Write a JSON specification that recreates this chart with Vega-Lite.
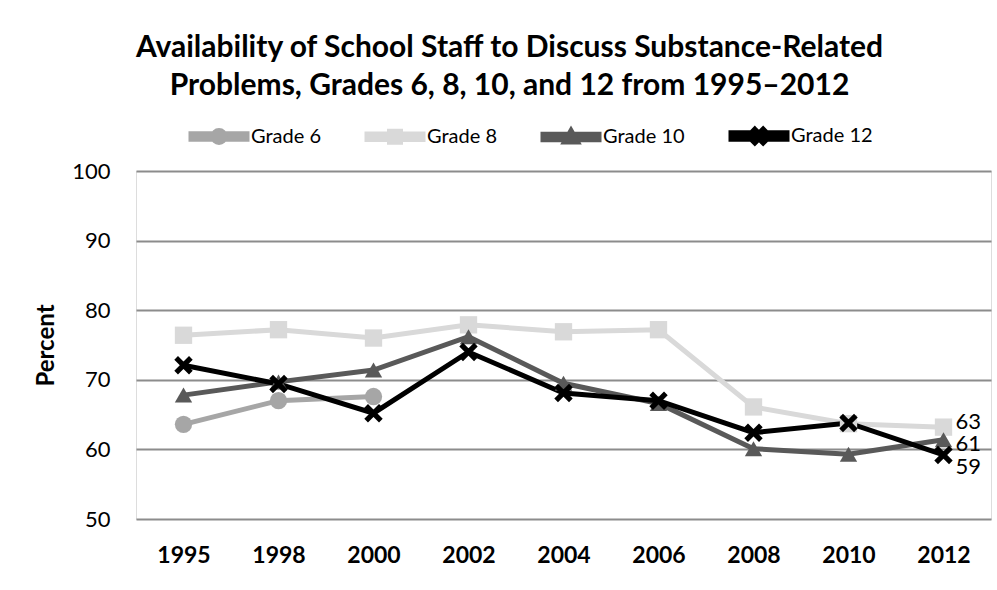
{
  "$schema": "https://vega.github.io/schema/vega-lite/v6.json",
  "width": 855,
  "height": 348,
  "autosize": {"type": "none"},
  "padding": {"left": 136, "top": 171, "right": 6, "bottom": 71},
  "background": "white",
  "title": {
    "text": ["Availability of School Staff to Discuss Substance-Related", "Problems, Grades 6, 8, 10, and 12 from 1995–2012"],
    "font": "Lato", "fontSize": 30, "fontWeight": "bold", "color": "#000000",
    "anchor": "middle", "dx": -54, "offset": 25, "lineHeight": 38
  },
  "data": {
    "values": [
      {"series": "Grade 6", "year": 1995, "value": 63.6},
      {"series": "Grade 6", "year": 1998, "value": 67.0},
      {"series": "Grade 6", "year": 2000, "value": 67.6},
      {"series": "Grade 8", "year": 1995, "value": 76.4},
      {"series": "Grade 8", "year": 1998, "value": 77.2},
      {"series": "Grade 8", "year": 2000, "value": 76.0},
      {"series": "Grade 8", "year": 2002, "value": 77.9},
      {"series": "Grade 8", "year": 2004, "value": 76.9},
      {"series": "Grade 8", "year": 2006, "value": 77.2},
      {"series": "Grade 8", "year": 2008, "value": 66.1},
      {"series": "Grade 8", "year": 2010, "value": 63.7},
      {"series": "Grade 8", "year": 2012, "value": 63.2},
      {"series": "Grade 10", "year": 1995, "value": 67.8},
      {"series": "Grade 10", "year": 1998, "value": 69.7},
      {"series": "Grade 10", "year": 2000, "value": 71.4},
      {"series": "Grade 10", "year": 2002, "value": 76.2},
      {"series": "Grade 10", "year": 2004, "value": 69.5},
      {"series": "Grade 10", "year": 2006, "value": 66.6},
      {"series": "Grade 10", "year": 2008, "value": 60.1},
      {"series": "Grade 10", "year": 2010, "value": 59.3},
      {"series": "Grade 10", "year": 2012, "value": 61.4},
      {"series": "Grade 12", "year": 1995, "value": 72.1},
      {"series": "Grade 12", "year": 1998, "value": 69.4},
      {"series": "Grade 12", "year": 2000, "value": 65.2},
      {"series": "Grade 12", "year": 2002, "value": 74.0},
      {"series": "Grade 12", "year": 2004, "value": 68.1},
      {"series": "Grade 12", "year": 2006, "value": 67.0},
      {"series": "Grade 12", "year": 2008, "value": 62.4},
      {"series": "Grade 12", "year": 2010, "value": 63.8},
      {"series": "Grade 12", "year": 2012, "value": 59.2}
    ]
  },
  "encoding": {
    "x": {
      "field": "year", "type": "ordinal",
      "scale": {"padding": 0.5},
      "axis": {
        "title": null, "labelFont": "Lato", "labelFontWeight": "bold", "labelFontSize": 23,
        "labelColor": "#000000", "labelAngle": 0, "ticks": false, "domain": false, "grid": false,
        "labelPadding": 25
      }
    },
    "y": {
      "field": "value", "type": "quantitative",
      "scale": {"domain": [50, 100]},
      "axis": {
        "title": "Percent", "titleFont": "Lato", "titleFontSize": 24, "titleFontWeight": "bold",
        "titleColor": "#000000", "titlePadding": 13,
        "values": [50, 60, 70, 80, 90, 100],
        "labelFont": "Lato", "labelFontSize": 22, "labelColor": "#000000", "labelPadding": 26,
        "ticks": false, "domain": false, "grid": true, "gridColor": "#8c8c8c", "gridWidth": 2
      }
    },
    "color": {
      "field": "series", "type": "nominal",
      "scale": {"domain": ["Grade 6", "Grade 8", "Grade 10", "Grade 12"], "range": ["#a6a6a6", "#d9d9d9", "#595959", "#000000"]}
    }
  },
  "layer": [
    {
      "mark": {"type": "line"},
      "encoding": {
        "strokeWidth": {
          "field": "series", "type": "nominal",
          "scale": {"domain": ["Grade 6", "Grade 8", "Grade 10", "Grade 12"], "range": [5, 5, 5, 6]},
          "legend": null
        }
      }
    },
    {
      "transform": [{"filter": "datum.series == 'Grade 6'"}],
      "mark": {"type": "point", "shape": "circle", "filled": true, "size": 300, "opacity": 1},
      "encoding": {
        "color": {
          "field": "series", "type": "nominal",
          "scale": {"domain": ["Grade 6", "Grade 8", "Grade 10", "Grade 12"], "range": ["#a6a6a6", "#d9d9d9", "#595959", "#000000"]},
          "legend": {
            "orient": "none", "legendX": 50, "legendY": -45, "direction": "horizontal", "title": null,
            "labelFont": "Lato", "labelFontSize": 20, "labelColor": "#000000",
            "symbolSize": 100, "symbolOffset": 23, "labelOffset": 22, "columnPadding": 36,
            "symbolStrokeWidth": 0, "symbolOpacity": 1, "gridAlign": "each",
            "encoding": {
              "symbols": {
                "shape": {"value": {"expr": "datum.value === 'Grade 6' ? 'M-5.6,-0.55H5.6V0.55H-5.6Z M-1.2,0A1.2,1.2 0 1,1 1.2,0A1.2,1.2 0 1,1 -1.2,0Z' : datum.value === 'Grade 8' ? 'M-5.6,-0.55H5.6V0.55H-5.6Z M-1.1,-1.1H1.1V1.1H-1.1Z' : datum.value === 'Grade 10' ? 'M-5.6,-0.55H5.6V0.55H-5.6Z M0,-1.3L1.3,1L-1.3,1Z' : 'M-5.6,-0.65H5.6V0.65H-5.6Z M-0.83,-1.38L1.38,0.83L0.83,1.38L-1.38,-0.83Z M-0.83,1.38L-1.38,0.83L0.83,-1.38L1.38,-0.83Z'"}},
                "fill": {"value": {"expr": "scale('color', datum.value)"}}
              }
            }
          }
        }
      }
    },
    {
      "transform": [{"filter": "datum.series == 'Grade 8'"}],
      "mark": {"type": "point", "shape": "square", "filled": true, "size": 300, "opacity": 1}
    },
    {
      "transform": [{"filter": "datum.series == 'Grade 10'"}],
      "mark": {"type": "point", "shape": "triangle-up", "filled": true, "size": 300, "opacity": 1}
    },
    {
      "transform": [{"filter": "datum.series == 'Grade 12'"}],
      "mark": {"type": "point", "shape": "M-0.638,-1.062L1.062,0.638L0.638,1.062L-1.062,-0.638Z M-0.638,1.062L-1.062,0.638L0.638,-1.062L1.062,-0.638Z", "filled": true, "size": 300, "opacity": 1}
    },
    {
      "transform": [{"filter": "datum.year == 2012 && datum.series == 'Grade 8'"}],
      "mark": {"type": "text", "align": "left", "dx": 12, "dy": -5, "font": "Lato", "fontSize": 22, "color": "#000000"},
      "encoding": {"text": {"field": "value", "type": "quantitative", "format": ".0f"}, "color": {"value": "#000000"}}
    },
    {
      "transform": [{"filter": "datum.year == 2012 && datum.series == 'Grade 10'"}],
      "mark": {"type": "text", "align": "left", "dx": 12, "dy": 4, "font": "Lato", "fontSize": 22, "color": "#000000"},
      "encoding": {"text": {"field": "value", "type": "quantitative", "format": ".0f"}, "color": {"value": "#000000"}}
    },
    {
      "transform": [{"filter": "datum.year == 2012 && datum.series == 'Grade 12'"}],
      "mark": {"type": "text", "align": "left", "dx": 12, "dy": 12, "font": "Lato", "fontSize": 22, "color": "#000000"},
      "encoding": {"text": {"field": "value", "type": "quantitative", "format": ".0f"}, "color": {"value": "#000000"}}
    }
  ]
}
